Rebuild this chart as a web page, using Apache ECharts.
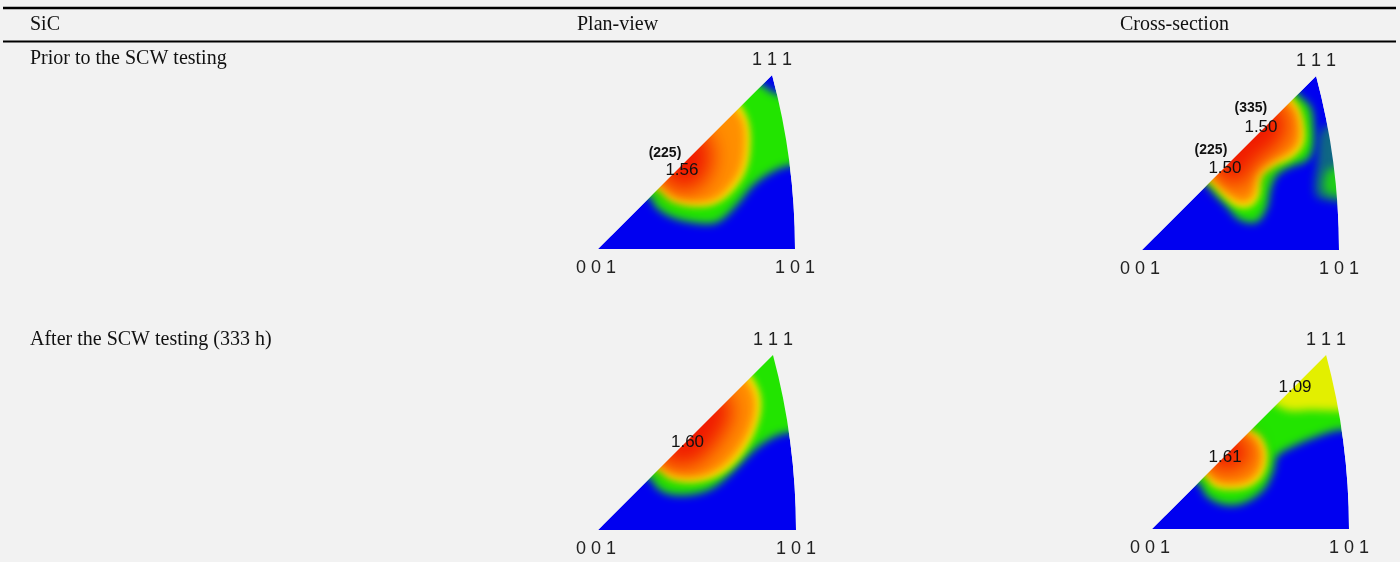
<!DOCTYPE html>
<html>
<head>
<meta charset="utf-8">
<script src="https://cdn.jsdelivr.net/npm/echarts@6/dist/echarts.min.js"></script>
<style>
  html, body { margin: 0; padding: 0; background: #f2f2f2; }
  #chart { width: 1400px; height: 562px; }
</style>
</head>
<body>
<div id="chart"></div>
<script>
// table text
const headers = ['SiC', 'Plan-view', 'Cross-section'];
const rowNames = ['Prior to the SCW testing', 'After the SCW testing (333 h)'];
const poleNames = ['0 0 1', '1 0 1', '1 1 1'];

// intensity bands: level 1 green, 2 yellow, 3 orange, 4 red
// vertices in triangle units, 001 = [0, 0], 101 = [1, 0]
const planPriorLevels = [1, 2, 3, 4];
const planPriorBands = [
  [[0.16,0.30],[0.265,0.265],[0.288,0.22],[0.364,0.166],[0.482,0.135],[0.601,0.135],[0.694,0.212],[0.795,0.33],[0.897,0.398],[0.99,0.426],[1.1,0.43],[1.1,0.78],[0.98,0.77],[0.88,0.80],[0.82,0.84],[0.70,0.86]],
  [[0.22,0.34],[0.305,0.305],[0.372,0.245],[0.482,0.217],[0.592,0.228],[0.685,0.296],[0.753,0.406],[0.773,0.541],[0.761,0.651],[0.725,0.725],[0.66,0.80]],
  [[0.25,0.36],[0.318,0.318],[0.385,0.262],[0.482,0.238],[0.59,0.248],[0.668,0.312],[0.73,0.41],[0.75,0.54],[0.74,0.645],[0.705,0.705],[0.64,0.78]],
  [[0.30,0.40],[0.34,0.34],[0.40,0.30],[0.48,0.30],[0.55,0.36],[0.58,0.46],[0.56,0.56],[0.48,0.62]]
];
const planPriorPeaks = [[0.34, 0.487, '(225)'], [0.426, 0.401, '1.56']];

const crossPriorLevels = [1, 0.45, 0.9, 2, 3, 4];
const crossPriorBands = [
  [[0.26,0.38],[0.33,0.33],[0.364,0.288],[0.431,0.22],[0.499,0.152],[0.584,0.144],[0.635,0.22],[0.651,0.305],[0.685,0.381],[0.753,0.423],[0.838,0.457],[0.871,0.525],[0.871,0.626],[0.854,0.728],[0.79,0.79],[0.74,0.86]],
  [[0.88,0.28],[0.95,0.25],[1.08,0.25],[1.08,0.62],[0.92,0.62],[0.89,0.45]],
  [[0.925,0.30],[0.96,0.28],[1.06,0.28],[1.06,0.41],[0.95,0.41],[0.925,0.36]],
  [[0.27,0.41],[0.345,0.345],[0.415,0.271],[0.482,0.22],[0.55,0.22],[0.592,0.271],[0.609,0.372],[0.668,0.423],[0.77,0.474],[0.821,0.541],[0.821,0.643],[0.795,0.728],[0.765,0.765],[0.70,0.84]],
  [[0.30,0.42],[0.36,0.36],[0.43,0.29],[0.49,0.245],[0.54,0.245],[0.57,0.285],[0.585,0.385],[0.655,0.445],[0.755,0.495],[0.797,0.55],[0.797,0.64],[0.775,0.715],[0.745,0.745],[0.68,0.82]],
  [[0.33,0.44],[0.38,0.38],[0.45,0.33],[0.52,0.33],[0.56,0.42],[0.64,0.49],[0.72,0.56],[0.74,0.66],[0.71,0.71],[0.64,0.78]]
];
const crossPriorPeaks = [[0.553, 0.721, '(335)'], [0.604, 0.624, '1.50'], [0.35, 0.508, '(225)'], [0.421, 0.416, '1.50']];

const planAfterLevels = [1, 2, 3, 4];
const planAfterBands = [
  [[0.16,0.30],[0.262,0.262],[0.296,0.215],[0.364,0.181],[0.482,0.181],[0.584,0.215],[0.685,0.299],[0.787,0.401],[0.888,0.469],[0.973,0.494],[1.1,0.49],[1.1,1.0],[0.80,1.0]],
  [[0.22,0.34],[0.305,0.305],[0.364,0.257],[0.465,0.24],[0.567,0.257],[0.668,0.316],[0.753,0.418],[0.812,0.553],[0.821,0.672],[0.775,0.775],[0.70,0.84]],
  [[0.25,0.36],[0.318,0.318],[0.375,0.28],[0.465,0.265],[0.56,0.28],[0.65,0.335],[0.73,0.43],[0.787,0.555],[0.795,0.665],[0.755,0.755],[0.68,0.82]],
  [[0.28,0.38],[0.34,0.34],[0.40,0.32],[0.49,0.33],[0.57,0.40],[0.64,0.50],[0.68,0.60],[0.66,0.66],[0.58,0.72]]
];
const planAfterPeaks = [[0.452, 0.442, '1.60']];

const crossAfterLevels = [1, 1.9, 2, 3, 4];
const crossAfterBands = [
  [[0.14,0.28],[0.235,0.235],[0.279,0.166],[0.364,0.124],[0.465,0.132],[0.567,0.20],[0.618,0.301],[0.635,0.369],[0.719,0.42],[0.838,0.47],[0.956,0.504],[1.1,0.50],[1.1,1.0],[0.80,1.0]],
  [[0.56,0.70],[0.63,0.63],[0.70,0.60],[0.80,0.605],[0.95,0.60],[1.1,0.60],[1.1,1.0],[0.80,1.0]],
  [[0.20,0.34],[0.27,0.27],[0.313,0.217],[0.398,0.20],[0.499,0.217],[0.567,0.284],[0.584,0.386],[0.55,0.47],[0.50,0.50],[0.42,0.56]],
  [[0.22,0.36],[0.285,0.285],[0.325,0.24],[0.40,0.225],[0.49,0.24],[0.545,0.295],[0.56,0.38],[0.53,0.455],[0.485,0.485],[0.40,0.55]],
  [[0.25,0.37],[0.31,0.31],[0.36,0.29],[0.44,0.30],[0.50,0.36],[0.50,0.42],[0.46,0.46],[0.36,0.50]]
];
const crossAfterPeaks = [[0.726, 0.721, '1.09'], [0.371, 0.365, '1.61']];

const BG = '#f2f2f2';
const TOP = 0.8837;      // 111 pole, stereographic, in 101 units
const ARC_R = 3.4142;    // radius of the 101-111 great circle
const OFF = 3000;        // draw shapes off screen, keep only the blurred shadow

const figures = [
  { levels: planPriorLevels, bands: planPriorBands, peaks: planPriorPeaks },
  { levels: crossPriorLevels, bands: crossPriorBands, peaks: crossPriorPeaks },
  { levels: planAfterLevels, bands: planAfterBands, peaks: planAfterPeaks },
  { levels: crossAfterLevels, bands: crossAfterBands, peaks: crossAfterPeaks }
];

function trianglePath(api) {
  const o = api.coord([0, 0]), a = api.coord([1, 0]), t = api.coord([TOP, TOP]);
  const r = api.size([ARC_R, 0])[0];
  return 'M' + o[0] + ' ' + o[1] + 'L' + t[0] + ' ' + t[1] +
    'A' + r + ' ' + r + ' 0 0 1 ' + a[0] + ' ' + a[1] + 'Z';
}

// softness of each band edge
function blurFor(lv) {
  if (lv >= 4) return 22;
  if (lv >= 3) return 8;
  if (lv >= 2) return 7;
  return 9;
}

function bandRender(bands) {
  return function (params, api) {
    const idx = api.value(0);
    const color = api.visual('color');
    if (idx < 0) {
      return { type: 'path', shape: { pathData: trianglePath(api) }, style: { fill: color } };
    }
    const pts = bands[idx].map(function (p) {
      const c = api.coord(p);
      return [c[0] - OFF, c[1]];
    });
    return {
      type: 'polygon',
      shape: { points: pts, smooth: 0.35 },
      style: { fill: color, shadowBlur: blurFor(api.value(1)), shadowColor: color, shadowOffsetX: OFF }
    };
  };
}

function maskRender(params, api) {
  const o = api.coord([0, 0]), a = api.coord([1, 0]), t = api.coord([TOP, TOP]);
  const pad = 45;
  const x0 = o[0] - pad, x1 = a[0] + pad, y0 = t[1] - pad, y1 = o[1] + pad;
  const d = 'M' + x0 + ' ' + y0 + 'L' + x0 + ' ' + y1 + 'L' + x1 + ' ' + y1 + 'L' + x1 + ' ' + y0 + 'Z' + trianglePath(api);
  const font = { fontSize: 18, fontFamily: 'Liberation Sans, Arial', fill: '#222', align: 'center', verticalAlign: 'middle' };
  return {
    type: 'group',
    children: [
      { type: 'path', shape: { pathData: d }, style: { fill: BG } },
      { type: 'text', x: o[0] - 2, y: o[1] + 19, style: Object.assign({ text: poleNames[0] }, font) },
      { type: 'text', x: a[0], y: a[1] + 19, style: Object.assign({ text: poleNames[1] }, font) },
      { type: 'text', x: t[0], y: t[1] - 15, style: Object.assign({ text: poleNames[2] }, font) }
    ]
  };
}

function peakRender(peaks) {
  return function (params, api) {
    const p = peaks[params.dataIndex];
    const c = api.coord([p[0], p[1]]);
    const bold = p[2].charAt(0) === '(';
    return {
      type: 'text', x: c[0], y: c[1],
      style: {
        text: p[2], fontSize: bold ? 14 : 17, fontWeight: bold ? 'bold' : 'normal',
        fontFamily: 'Liberation Sans, Arial', fill: '#111', align: 'center', verticalAlign: 'middle'
      }
    };
  };
}

const grids = [
  { left: 598, top: 75, width: 197, height: 174 },
  { left: 1142, top: 76, width: 197, height: 174 },
  { left: 598, top: 355, width: 198, height: 175 },
  { left: 1152, top: 355, width: 197, height: 174 }
];

const xAxes = [], yAxes = [], bandSeries = [], maskSeries = [], peakSeries = [];
figures.forEach(function (f, i) {
  xAxes.push({ gridIndex: i, type: 'value', min: 0, max: 1, show: false });
  yAxes.push({ gridIndex: i, type: 'value', min: 0, max: TOP, show: false });
  const data = [[-1, 0]].concat(f.levels.map(function (lv, k) { return [k, lv]; }));
  bandSeries.push({ type: 'custom', xAxisIndex: i, yAxisIndex: i, z: 2, silent: true, renderItem: bandRender(f.bands), data: data });
  maskSeries.push({ type: 'custom', xAxisIndex: i, yAxisIndex: i, z: 5, silent: true, renderItem: maskRender, data: [[0, 0]] });
  peakSeries.push({ type: 'custom', xAxisIndex: i, yAxisIndex: i, z: 10, silent: true, renderItem: peakRender(f.peaks),
    data: f.peaks.map(function (p) { return [p[0], p[1]]; }) });
});

const serif = { fontSize: 20, fontFamily: 'Liberation Serif, Times New Roman', fill: '#111', verticalAlign: 'middle' };
const graphics = [
  { type: 'line', z: 100, shape: { x1: 3, y1: 8, x2: 1396, y2: 8 }, style: { stroke: '#000', lineWidth: 2.5 } },
  { type: 'line', z: 100, shape: { x1: 3, y1: 41.5, x2: 1396, y2: 41.5 }, style: { stroke: '#000', lineWidth: 2 } },
  { type: 'text', z: 100, x: 30, y: 25, style: Object.assign({ text: headers[0] }, serif) },
  { type: 'text', z: 100, x: 577, y: 25, style: Object.assign({ text: headers[1] }, serif) },
  { type: 'text', z: 100, x: 1120, y: 25, style: Object.assign({ text: headers[2] }, serif) },
  { type: 'text', z: 100, x: 30, y: 59, style: Object.assign({ text: rowNames[0] }, serif) },
  { type: 'text', z: 100, x: 30, y: 340, style: Object.assign({ text: rowNames[1] }, serif) }
];

const chart = echarts.init(document.getElementById('chart'));
chart.setOption({
  backgroundColor: BG,
  animation: false,
  grid: grids,
  xAxis: xAxes,
  yAxis: yAxes,
  visualMap: {
    type: 'continuous', show: false, min: 0, max: 4, dimension: 1,
    seriesIndex: [0, 1, 2, 3],
    inRange: { color: ['#0000f0', '#22e400', '#f8f000', '#ff9000', '#f01800'] }
  },
  graphic: graphics,
  series: bandSeries.concat(maskSeries, peakSeries)
});
</script>
</body>
</html>
